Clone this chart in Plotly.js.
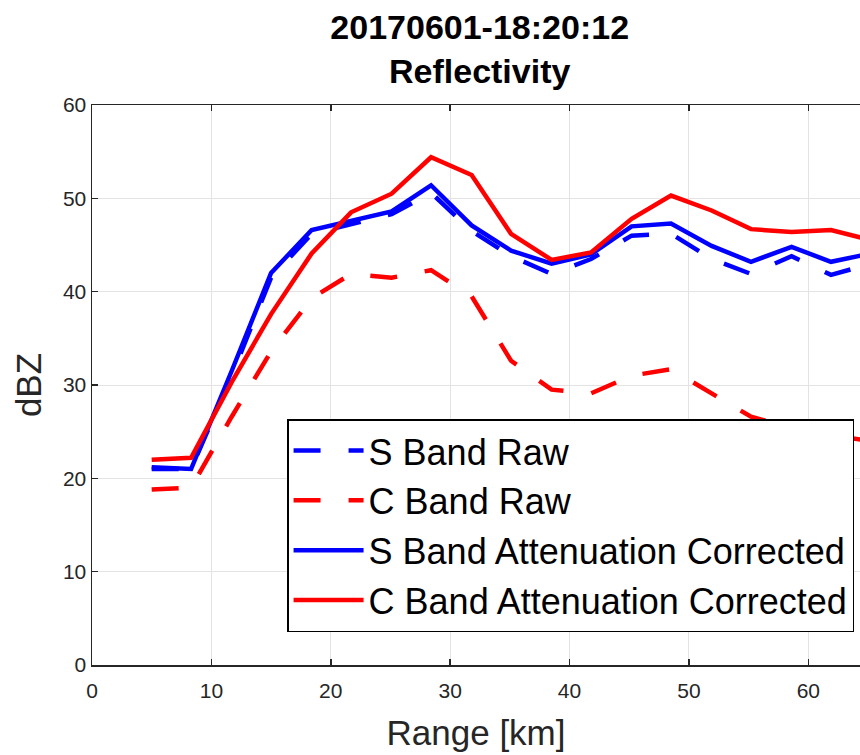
<!DOCTYPE html>
<html>
<head>
<meta charset="utf-8">
<script src="https://cdn.plot.ly/plotly-3.0.1.min.js"></script>
<style>html,body{margin:0;padding:0;background:#fff;}#chart{width:860px;height:755px;}</style>
</head>
<body>
<div id="chart"></div>
<script>
const rangeKm = [5.0, 8.3, 11.7, 15.0, 18.4, 21.7, 25.1, 28.4, 31.8, 35.1, 38.5, 41.8, 45.2, 48.5, 51.9, 55.2, 58.6, 61.9, 65.3];
const sBandRaw = [21.0, 21.0, 31.0, 41.5, 46.2, 47.2, 48.3, 50.6, 46.5, 43.8, 41.9, 43.5, 46.0, 46.2, 43.5, 41.9, 43.8, 41.8, 43.0];
const cBandRaw = [18.8, 19.0, 26.6, 33.6, 39.3, 41.9, 41.5, 42.3, 39.5, 32.6, 29.5, 29.1, 31.0, 31.7, 29.1, 26.6, 25.4, 24.6, 24.0];
const sBandCorrected = [21.2, 21.0, 31.5, 42.0, 46.6, 47.6, 48.6, 51.4, 47.1, 44.4, 43.0, 44.0, 47.0, 47.3, 44.9, 43.2, 44.8, 43.2, 44.1];
const cBandCorrected = [22.0, 22.2, 30.3, 37.6, 44.1, 48.5, 50.5, 54.4, 52.5, 46.2, 43.4, 44.2, 47.8, 50.3, 48.7, 46.7, 46.4, 46.6, 45.5];
const seriesNames = ["S Band Raw", "C Band Raw", "S Band Attenuation Corrected", "C Band Attenuation Corrected"];
const xTicks = [0, 10, 20, 30, 40, 50, 60];
const yTicks = [0, 10, 20, 30, 40, 50, 60];

const dashPattern = "27px,28px";
const lw = 4.5;
const traces = [
  {x: rangeKm, y: sBandRaw, name: seriesNames[0], mode: "lines", line: {color: "#0000ff", width: lw, dash: dashPattern}},
  {x: rangeKm, y: cBandRaw, name: seriesNames[1], mode: "lines", line: {color: "#ff0000", width: lw, dash: dashPattern}},
  {x: rangeKm, y: sBandCorrected, name: seriesNames[2], mode: "lines", line: {color: "#0000ff", width: lw}},
  {x: rangeKm, y: cBandCorrected, name: seriesNames[3], mode: "lines", line: {color: "#ff0000", width: lw}}
];

const axisColor = "#262626";
const layout = {
  width: 860, height: 755,
  margin: {l: 92, r: 0, t: 105, b: 90},
  paper_bgcolor: "#ffffff", plot_bgcolor: "#ffffff",
  font: {family: "Liberation Sans, Arial, sans-serif", color: axisColor},
  title: {
    text: "<b>20170601-18:20:12</b><br><b>Reflectivity</b>",
    font: {size: 34, color: "#000000", family: "Liberation Sans, Arial, sans-serif"},
    x: 0.5578, xref: "container", xanchor: "center",
    y: 0.948, yref: "container", yanchor: "top"
  },
  xaxis: {
    range: [0, 64.33], tickvals: xTicks, ticktext: xTicks.map(String),
    showgrid: true, gridcolor: "#e3e3e3", gridwidth: 1,
    showline: true, linecolor: axisColor, linewidth: 1.5, mirror: "ticks",
    ticks: "inside", ticklen: 6, tickcolor: axisColor, tickwidth: 1.5,
    tickfont: {size: 21, color: axisColor}, ticklabelstandoff: 6,
    zeroline: false,
    title: {text: "Range [km]", font: {size: 35, color: axisColor}, standoff: 20}
  },
  yaxis: {
    range: [0, 60], tickvals: yTicks, ticktext: yTicks.map(String),
    showgrid: true, gridcolor: "#e3e3e3", gridwidth: 1,
    showline: true, linecolor: axisColor, linewidth: 1.5, mirror: false,
    ticks: "inside", ticklen: 6, tickcolor: axisColor, tickwidth: 1.5,
    tickfont: {size: 21, color: axisColor},
    zeroline: false,
    title: {text: "dBZ", font: {size: 35, color: axisColor}, standoff: 10}
  },
  showlegend: true,
  legend: {
    x: 0.254, y: 0.439, xanchor: "left", yanchor: "top",
    bgcolor: "#ffffff", bordercolor: "#000000", borderwidth: 1.5,
    font: {size: 36, color: "#000000"},
    itemwidth: 70, tracegroupgap: 0
  }
};

Plotly.newPlot("chart", traces, layout, {staticPlot: true, displayModeBar: false});
</script>
</body>
</html>
